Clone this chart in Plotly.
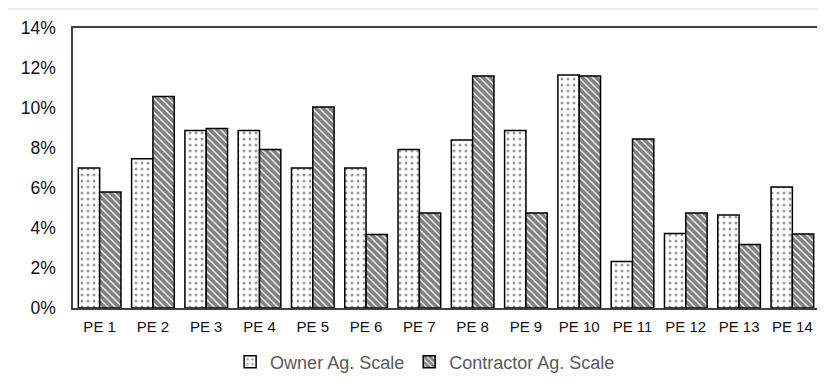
import plotly.graph_objects as go

categories = ["PE 1", "PE 2", "PE 3", "PE 4", "PE 5", "PE 6", "PE 7",
              "PE 8", "PE 9", "PE 10", "PE 11", "PE 12", "PE 13", "PE 14"]
owner = [7.0, 7.46, 8.87, 8.87, 7.0, 7.0, 7.92, 8.4, 8.87, 11.65, 2.32, 3.72, 4.65, 6.05]
contractor = [5.8, 10.58, 8.98, 7.92, 10.05, 3.68, 4.75, 11.6, 4.75, 11.6, 8.45, 4.75, 3.18, 3.7]
y_ticks = [0, 2, 4, 6, 8, 10, 12, 14]
y_tick_labels = ["0%", "2%", "4%", "6%", "8%", "10%", "12%", "14%"]

fig = go.Figure()
fig.add_trace(go.Bar(
    name="Owner Ag. Scale", x=categories, y=owner,
    marker=dict(color="white", line=dict(color="black", width=1.5),
                pattern=dict(shape=".", fgcolor="#333333", bgcolor="white",
                             size=6, solidity=0.2)),
))
fig.add_trace(go.Bar(
    name="Contractor Ag. Scale", x=categories, y=contractor,
    marker=dict(color="white", line=dict(color="black", width=1.5),
                pattern=dict(shape="\\", fgcolor="#000000", bgcolor="white",
                             size=5, solidity=0.72)),
))

fig.update_layout(
    width=817, height=375,
    margin=dict(l=65, r=6, t=20, b=75, autoexpand=False),
    paper_bgcolor="white", plot_bgcolor="white",
    barmode="group", bargap=0.2, bargroupgap=0,
    font=dict(family="Liberation Sans, Arial, sans-serif", color="#111111"),
    showlegend=True,
    legend=dict(orientation="h", x=0.472, xanchor="center", y=-0.193, yanchor="middle",
                font=dict(size=18, color="#595959"), itemwidth=30,
                traceorder="normal"),
    shapes=[dict(type="rect", xref="paper", yref="paper",
                 x0=-0.0885, x1=1.05, y0=-0.4, y1=1.068,
                 line=dict(color="#d9d9d9", width=1), layer="below")],
)
fig.update_xaxes(showline=True, mirror=True, linecolor="#404040", linewidth=1.5,
                 ticks="", tickfont=dict(size=15, color="#111111"), showgrid=False,
                 ticklabelstandoff=4)
fig.update_yaxes(range=[0, 14], tickmode="array", tickvals=y_ticks, ticktext=y_tick_labels,
                 showline=True, mirror=True, linecolor="#404040", linewidth=1.5,
                 ticks="", showgrid=False, zeroline=False,
                 tickfont=dict(size=17.5, color="#111111"), ticklabelstandoff=12)

fig.write_html("out.html")
